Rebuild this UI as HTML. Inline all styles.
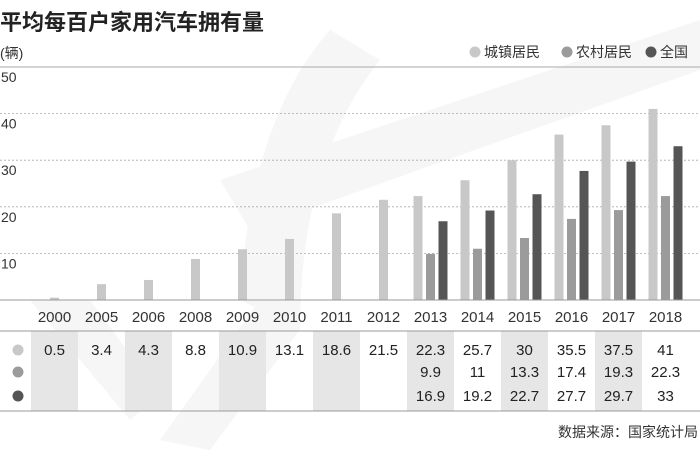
<!DOCTYPE html>
<html><head><meta charset="utf-8"><style>
body{margin:0;background:#fff;}
svg text{font-family:"Liberation Sans","Noto Sans CJK SC",sans-serif;}
</style></head><body>
<svg id="chart" width="700" height="450" xmlns="http://www.w3.org/2000/svg">
<g fill="#f6f6f6">
<path d="M330 30 Q250 120 240 300 L300 330 Q300 160 380 60 Z"/>
<path d="M220 180 L700 20 L700 70 L250 230 Z"/>
<path d="M30 300 L130 420 L160 395 L90 300 Z"/>
<path d="M160 440 L260 300 L300 330 L210 450 Z"/>
</g>
<text x="0" y="30" font-size="22" font-weight="bold" fill="#222">平均每百户家用汽车拥有量</text>
<text x="0" y="58" font-size="14" fill="#333">(辆)</text>
<g id="legend"></g>
<g id="grid"></g>
<g id="bars"></g>
<g id="table"></g>
<text x="698" y="437" font-size="14" fill="#333" text-anchor="end">数据来源：国家统计局</text>
</svg>
<script>
const years=["2000","2005","2006","2008","2009","2010","2011","2012","2013","2014","2015","2016","2017","2018"];
const urban=[0.5,3.4,4.3,8.8,10.9,13.1,18.6,21.5,22.3,25.7,30,35.5,37.5,41];
const rural=[null,null,null,null,null,null,null,null,9.9,11,13.3,17.4,19.3,22.3];
const national=[null,null,null,null,null,null,null,null,16.9,19.2,22.7,27.7,29.7,33];
const yTicks=[10,20,30,40,50];
const seriesNames=["城镇居民","农村居民","全国"];
const colors=["#c8c8c8","#9b9b9b","#555555"];
const NS="http://www.w3.org/2000/svg";
function mk(t,a,p,txt){const e=document.createElementNS(NS,t);for(const k in a)e.setAttribute(k,a[k]);if(txt!=null)e.textContent=txt;p.appendChild(e);return e;}
const x0=31,colW=47,baseY=300,topY=67,maxV=50;
const yS=v=>baseY-(v/maxV)*(baseY-topY);
const cx=i=>x0+colW*i+colW/2;
const grid=document.getElementById('grid'),bars=document.getElementById('bars'),table=document.getElementById('table'),legend=document.getElementById('legend');
for(let i=0;i<years.length;i+=2){
 const r=mk('rect',{x:x0+colW*i,y:331,width:colW,height:80,fill:'#e6e6e6'},table);
 
 
}
yTicks.forEach(t=>{
 const l=mk('line',{x1:0,x2:700,y1:yS(t),y2:yS(t),stroke:'#aaa','stroke-width':t===50?1:0.8,'stroke-dasharray':t===50?'none':'2,2'},grid);
 
 
 const tx=mk('text',{x:1,y:yS(t)+15,'font-size':14,fill:'#333'},grid,t);
 
 
});
const bw=9;
years.forEach((yr,i)=>{
 const vals=[urban[i],rural[i],national[i]];
 const n=vals.filter(v=>v!=null).length;
 const offs=n===1?[0]:[-12.5,0,12.5];
 let k=0;
 vals.forEach((v,s)=>{
  if(v==null)return;
  const r=mk('rect',{x:cx(i)+offs[k]-bw/2,y:yS(v),width:bw,height:baseY-yS(v),fill:colors[s]},bars);
  
  
  k++;
 });
 const yl=mk('text',{x:cx(i),y:322,'font-size':15,fill:'#333','text-anchor':'middle'},table,yr);
 
 
 const rows=[350,372,396];
 vals.forEach((v,s)=>{
  if(v==null)return;
  const t=mk('text',{x:cx(i),y:rows[s]+5,'font-size':15,fill:'#222','text-anchor':'middle'},table,v);
  
  
 });
});
[300,331,411].forEach(yy=>{
 const l=mk('line',{x1:0,x2:700,y1:yy,y2:yy,stroke:'#999','stroke-width':1},table);
 
 
});
[350,372,396].forEach((yy,s)=>{
 const c=mk('circle',{cx:18,cy:yy,r:5.5,fill:colors[s]},table);
 
 
});
const lx=[484,576,660];
seriesNames.forEach((nm,s)=>{
 const c=mk('circle',{cx:lx[s]-9,cy:52,r:5.5,fill:colors[s]},legend);
 
 
 const t=mk('text',{x:lx[s],y:57,'font-size':14,fill:'#333'},legend,nm);
 
 
});
</script>
</body></html>
